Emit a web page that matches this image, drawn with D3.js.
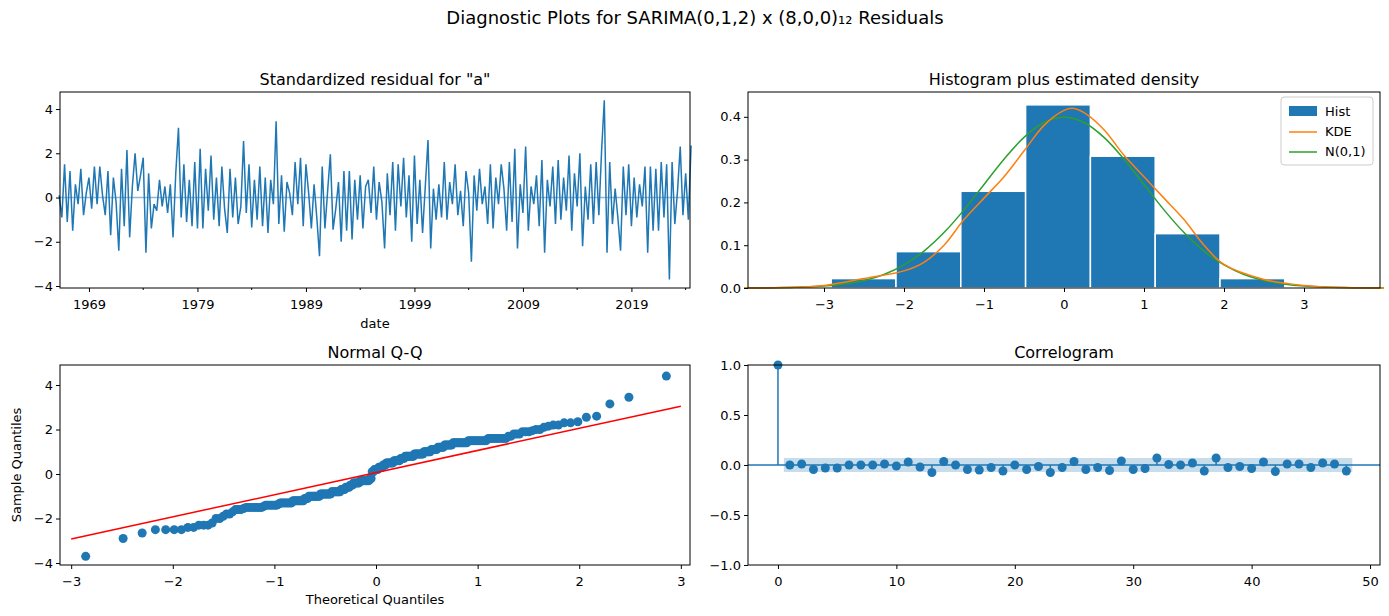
<!DOCTYPE html>
<html><head><meta charset="utf-8">
<script src="https://cdn.jsdelivr.net/npm/d3@7"></script>
<style>body{margin:0;background:#fff;font-family:"DejaVu Sans",sans-serif}</style>
</head><body><svg id="c" width="1389" height="616"></svg>
<script>
// ---- data ----
const residStart = 1966.25; // quarterly readings
const residuals = [
0.1,-0.9,1.5,-1.1, 1.2,-1.5,0.6,-0.3, 1.3,-0.8,0.2,0.9, -0.5,1.4,-0.3,1.4, 0.1,-0.8,1.2,-1.7,
0.9,-0.2,-2.4,1.3, -1.3,2.15,-1.8,0.5, 2.0,0.3,1.0,1.8, -2.5,1.1,-1.4,-0.3, -0.6,0.8,-0.4,0.5,
-0.7,0.6,-1.8,1.1, 3.15,-0.9,1.5,-1.1, 0.8,-1.3,1.6,-1.4, 2.2,-1.4,1.3,-0.6, 1.9,-1.0,0.9,-1.3,
1.4,-0.5,-1.6,1.3, -0.9,0.9,-1.2,-0.4, 2.55,-0.7,1.5,-1.35, 0.8,-1.0,1.4,-1.3, 0.9,-1.6,0.8,-0.3,
3.45,-1.2,1.0,-1.55, 0.7,0.2,-0.8,1.6, -0.3,1.8,-1.3,1.5, 0.2,-1.4,0.6,-0.9, -2.65,1.4,-1.4,0.3,
1.95,-1.45,-0.5,0.7, -2.0,1.2,-1.5,1.2, -1.9,0.8,-1.0,1.0, -1.4,0.5,0.8,-0.7, 1.4,-1.0,0.7,-0.2,
-2.3,1.1,-0.8,1.6, -1.5,1.5,-0.4,1.8, -0.9,1.0,-2.0,1.9, -1.2,0.8,-1.6,0.5, 2.6,-2.3,0.4,-1.0,
0.6,-0.9,1.6,-1.0, 0.7,-0.3,1.5,-0.8, 0.3,-1.3,1.2,0.2, -2.9,1.0,-0.6,1.3, -0.3,0.5,-1.2,1.5,
-1.4,0.9,-0.3,1.5, 0.4,-1.5,1.6,-1.1, 2.2,-2.3,0.6,-0.7, 2.3,-1.5,0.5,-0.3, 1.0,-1.3,1.7,-2.5,
0.8,-0.4,1.4,-1.2, 1.7,-1.0,0.9,-0.6, 1.9,-1.5,1.1,-0.4, 2.0,-2.2,0.5,-1.0, 1.5,-1.2,1.6,-0.8,
2.1,4.4,-2.5,1.6, -1.2,0.4,-0.9,-2.4, 1.4,-0.8,1.5,-1.3, 0.9,-0.9,0.6,-0.4, 1.4,-2.5,1.4,-1.5,
1.3,-1.5,1.6,-0.9, 1.5,-3.7,1.6,-1.2, 0.3,2.3,-0.8,1.1, -1.0,2.35];
const yearTicks = [1969,1979,1989,1999,2009,2019];

const histEdges = [-2.91,-2.10,-1.29,-0.48,0.33,1.14,1.95,2.76];
const histHeights = [0.022,0.085,0.226,0.428,0.308,0.127,0.022];
const kdeX = [-4,-3.5,-3,-2.5,-2,-1.75,-1.5,-1.25,-1,-0.75,-0.5,-0.25,0,0.1,0.25,0.5,0.75,1,1.25,1.5,1.75,2,2.5,3,3.5,4];
const kdeY = [0,0.001,0.006,0.022,0.04,0.06,0.10,0.16,0.21,0.26,0.32,0.38,0.415,0.42,0.41,0.37,0.31,0.26,0.21,0.16,0.10,0.055,0.02,0.006,0.001,0];
const normX = [-4,-3.5,-3,-2.75,-2.5,-2.25,-2,-1.75,-1.5,-1.25,-1,-0.75,-0.5,-0.25,0,0.25,0.5,0.75,1,1.25,1.5,1.75,2,2.25,2.5,2.75,3,3.5,4];
const normY = [0.0001,0.0009,0.0044,0.0091,0.0175,0.0317,0.054,0.0863,0.1295,0.1826,0.242,0.3011,0.352,0.3867,0.399,0.3867,0.352,0.3011,0.242,0.1826,0.1295,0.0863,0.054,0.0317,0.0175,0.0091,0.0044,0.0009,0.0001];

const qqLineX = [-3,3];
const qqLineY = [-2.92,3.05];

const acfValues = [1.0,0.0,0.01,-0.045,-0.03,-0.03,0.0,0.0,0.0,0.01,-0.01,0.03,-0.02,-0.075,0.035,0.0,-0.045,-0.05,-0.025,-0.06,0.0,
-0.045,-0.015,-0.075,-0.025,0.035,-0.045,-0.025,-0.055,0.04,-0.045,-0.035,0.07,0.005,0.0,0.02,-0.06,0.07,-0.025,-0.015,-0.035,
0.03,-0.065,0.01,0.01,-0.025,0.02,0.01,-0.06];
const acfBand = 0.07;

// ---- drawing ----
const svg = d3.select("#c");
const blue="#1f77b4", orange="#ff7f0e", green="#2ca02c";
const FS=13;
svg.append("text").attr("x",695).attr("y",24).attr("text-anchor","middle").attr("font-size",18).text("Diagnostic Plots for SARIMA(0,1,2) x (8,0,0)₁₂ Residuals");

function panel(x0,x1,y0,y1,title){
  const g=svg.append("g");
  g.append("text").attr("x",(x0+x1)/2).attr("y",y0-7).attr("text-anchor","middle").attr("font-size",16).text(title);
  return g;
}
function frame(g,x0,x1,y0,y1){
  g.append("rect").attr("x",x0).attr("y",y0).attr("width",x1-x0).attr("height",y1-y0).attr("fill","none").attr("stroke","#000").attr("stroke-width",1);
}
function axes(g,xs,ys,y1,x0,xt,yt,xfmt,yfmt){
  const ax=g.append("g").attr("transform",`translate(0,${y1})`).call(d3.axisBottom(xs).tickValues(xt).tickFormat(xfmt).tickSizeOuter(0).tickSize(4));
  const ay=g.append("g").attr("transform",`translate(${x0},0)`).call(d3.axisLeft(ys).tickValues(yt).tickFormat(yfmt).tickSizeOuter(0).tickSize(4));
  [ax,ay].forEach(a=>{a.select(".domain").remove();a.selectAll("text").attr("font-size",FS).attr("font-family","DejaVu Sans").attr("fill","#000");});
  ax.selectAll("text").attr("dy","1.1em");
}
const minus=d=>String(d).replace("-","−");

// Panel 1: residual
{
  const x0=60,x1=690,y0=92,y1=288;
  const g=panel(x0,x1,y0,y1,'Standardized residual for "a"');
  const xs=d3.scaleLinear().domain([1966.33,2024.4]).range([x0,x1]);
  const ys=d3.scaleLinear().domain([-4.09,4.77]).range([y1,y0]);
  g.append("line").attr("x1",x0).attr("x2",x1).attr("y1",ys(0)).attr("y2",ys(0)).attr("stroke",blue).attr("opacity",0.5).attr("stroke-width",1.5);
  g.append("path").datum(residuals).attr("fill","none").attr("stroke",blue).attr("stroke-width",1.5)
   .attr("d",d3.line().x((d,i)=>xs(residStart+i*0.25)).y(d=>ys(d)));
  axes(g,xs,ys,y1,x0,yearTicks,[-4,-2,0,2,4],d=>d,minus);
  const minor=[1974,1984,1994,2004,2014,2024];
  g.selectAll(".mn").data(minor).enter().append("line").attr("x1",d=>xs(d)).attr("x2",d=>xs(d)).attr("y1",y1).attr("y2",y1+2).attr("stroke","#000");
  g.append("text").attr("x",(x0+x1)/2).attr("y",328).attr("text-anchor","middle").attr("font-size",FS).text("date");
  frame(g,x0,x1,y0,y1);
}
// Panel 2: histogram
{
  const x0=748,x1=1380,y0=92,y1=288;
  const g=panel(x0,x1,y0,y1,"Histogram plus estimated density");
  const xs=d3.scaleLinear().domain([-3.95,3.95]).range([x0,x1]);
  const ys=d3.scaleLinear().domain([0,0.458]).range([y1,y0]);
  g.selectAll(".b").data(histHeights).enter().append("rect")
   .attr("x",(d,i)=>xs(histEdges[i])).attr("width",(d,i)=>xs(histEdges[i+1])-xs(histEdges[i]))
   .attr("y",d=>ys(d)).attr("height",d=>ys(0)-ys(d)).attr("fill",blue).attr("stroke","#fff").attr("stroke-width",1.5);
  const ln=d3.line().curve(d3.curveCatmullRom);
  g.append("path").attr("d",ln(normX.map((x,i)=>[xs(x),ys(normY[i])]))).attr("fill","none").attr("stroke",green).attr("stroke-width",1.5);
  g.append("path").attr("d",ln(kdeX.map((x,i)=>[xs(x),ys(kdeY[i])]))).attr("fill","none").attr("stroke",orange).attr("stroke-width",1.5);
  axes(g,xs,ys,y1,x0,[-3,-2,-1,0,1,2,3],[0,0.1,0.2,0.3,0.4],minus,d=>d.toFixed(1));
  const lg=g.append("g").attr("transform","translate(1281,97)");
  lg.append("rect").attr("width",92).attr("height",68).attr("rx",3).attr("fill","#fff").attr("stroke","#ccc");
  lg.append("rect").attr("x",8).attr("y",9).attr("width",28).attr("height",10).attr("fill",blue);
  lg.append("line").attr("x1",8).attr("x2",36).attr("y1",35).attr("y2",35).attr("stroke",orange).attr("stroke-width",1.5);
  lg.append("line").attr("x1",8).attr("x2",36).attr("y1",55).attr("y2",55).attr("stroke",green).attr("stroke-width",1.5);
  [["Hist",19],["KDE",39],["N(0,1)",59]].forEach(([t,y])=>lg.append("text").attr("x",44).attr("y",y).attr("font-size",FS).text(t));
  frame(g,x0,x1,y0,y1);
}
// Panel 3: QQ
{
  const x0=60,x1=690,y0=365,y1=565;
  const g=panel(x0,x1,y0,y1,"Normal Q-Q");
  const xs=d3.scaleLinear().domain([-3.11,3.09]).range([x0,x1]);
  const ys=d3.scaleLinear().domain([-4.09,4.9]).range([y1,y0]);
  function invNorm(p){ // Acklam approximation
    const a=[-39.6968302866538,220.946098424521,-275.928510446969,138.357751867269,-30.6647980661472,2.50662827745924];
    const b=[-54.4760987982241,161.585836858041,-155.698979859887,66.8013118877197,-13.2806815528857];
    const c=[-0.00778489400243029,-0.322396458041136,-2.40075827716184,-2.54973253934373,4.37466414146731,2.93816398269878];
    const d=[0.00778469570904146,0.32246712907004,2.445134137143,3.75440866190742];
    const pl=0.02425;
    if(p<pl){const q=Math.sqrt(-2*Math.log(p));return (((((c[0]*q+c[1])*q+c[2])*q+c[3])*q+c[4])*q+c[5])/((((d[0]*q+d[1])*q+d[2])*q+d[3])*q+1);}
    if(p>1-pl){const q=Math.sqrt(-2*Math.log(1-p));return -(((((c[0]*q+c[1])*q+c[2])*q+c[3])*q+c[4])*q+c[5])/((((d[0]*q+d[1])*q+d[2])*q+d[3])*q+1);}
    const q=p-0.5,r=q*q;return (((((a[0]*r+a[1])*r+a[2])*r+a[3])*r+a[4])*r+a[5])*q/(((((b[0]*r+b[1])*r+b[2])*r+b[3])*r+b[4])*r+1);
  }
  const sorted=residuals.slice().sort(d3.ascending), n=sorted.length;
  g.selectAll(".p").data(sorted).enter().append("circle").attr("cx",(d,i)=>xs(invNorm((i+0.5)/n))).attr("cy",d=>ys(d)).attr("r",4.5).attr("fill",blue);
  g.append("line").attr("x1",xs(qqLineX[0])).attr("x2",xs(qqLineX[1])).attr("y1",ys(qqLineY[0])).attr("y2",ys(qqLineY[1])).attr("stroke","red").attr("stroke-width",1.5);
  axes(g,xs,ys,y1,x0,[-3,-2,-1,0,1,2,3],[-4,-2,0,2,4],minus,minus);
  g.append("text").attr("x",(x0+x1)/2).attr("y",604).attr("text-anchor","middle").attr("font-size",FS).text("Theoretical Quantiles");
  g.append("text").attr("transform",`translate(21,${(y0+y1)/2}) rotate(-90)`).attr("text-anchor","middle").attr("font-size",FS).text("Sample Quantiles");
  frame(g,x0,x1,y0,y1);
}
// Panel 4: ACF
{
  const x0=748,x1=1380,y0=365,y1=565;
  const g=panel(x0,x1,y0,y1,"Correlogram");
  const xs=d3.scaleLinear().domain([-2.53,50.84]).range([x0,x1]);
  const ys=d3.scaleLinear().domain([-1,1]).range([y1,y0]);
  g.append("rect").attr("x",xs(0.5)).attr("width",xs(48.5)-xs(0.5)).attr("y",ys(acfBand)).attr("height",ys(-acfBand)-ys(acfBand)).attr("fill",blue).attr("opacity",0.25);
  g.append("line").attr("x1",x0).attr("x2",x1).attr("y1",ys(0)).attr("y2",ys(0)).attr("stroke",blue).attr("stroke-width",1.5);
  g.selectAll(".s").data(acfValues).enter().append("line").attr("x1",(d,i)=>xs(i)).attr("x2",(d,i)=>xs(i)).attr("y1",ys(0)).attr("y2",d=>ys(d)).attr("stroke",blue).attr("stroke-width",1.5);
  g.selectAll(".m").data(acfValues).enter().append("circle").attr("cx",(d,i)=>xs(i)).attr("cy",d=>ys(d)).attr("r",4.5).attr("fill",blue);
  axes(g,xs,ys,y1,x0,[0,10,20,30,40,50],[-1,-0.5,0,0.5,1],d=>d,d=>minus(d.toFixed(1)));
  frame(g,x0,x1,y0,y1);
}
</script></body></html>
